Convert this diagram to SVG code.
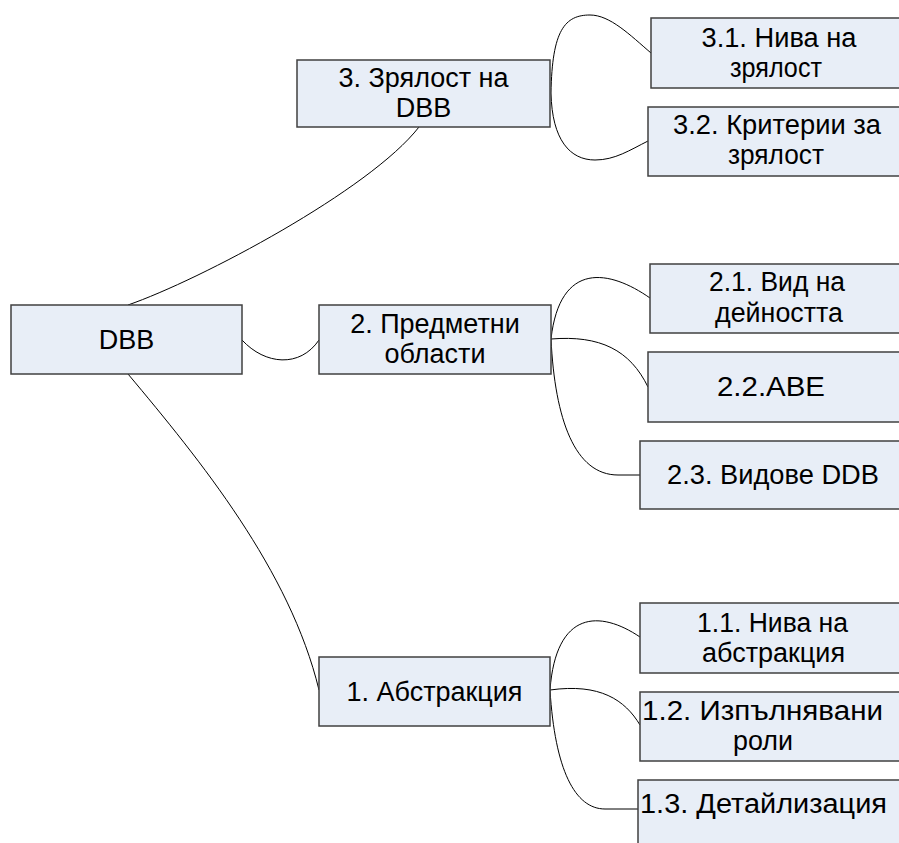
<svg xmlns="http://www.w3.org/2000/svg" width="899" height="843" viewBox="0 0 899 843">
<style>
.box{fill:#E8EEF7;stroke:#404040;stroke-width:1.5}
.t{font-family:"Liberation Sans",Arial,sans-serif;font-size:27px;fill:#000;text-anchor:middle}
.c{fill:none;stroke:#000;stroke-width:1}
</style>
<rect width="899" height="843" fill="#fff"/>
<g id="connectors">
<path class="c" d="M128,305 C200,280 370,190 419,127"/>
<path class="c" d="M242,340 C265,365 300,368 319,340"/>
<path class="c" d="M128,374 C200,460 290,570 319,690"/>
<path class="c" d="M551,93 C552,30 565,15 590,15 C610,15 630,35 651,53"/>
<path class="c" d="M551,93 C552,140 570,160 595,160 C615,160 630,150 648,141"/>
<path class="c" d="M551,339 C560,260 610,270 650,298"/>
<path class="c" d="M551,339 C600,335 630,350 648,387"/>
<path class="c" d="M551,339 C555,420 575,475 618,475 L640,475"/>
<path class="c" d="M550,690 C556,610 600,610 640,637"/>
<path class="c" d="M550,690 C600,683 625,700 640,725"/>
<path class="c" d="M550,690 C555,770 575,809 605,809 L638,809"/>
</g>
<g id="n-dbb"><rect class="box" x="11" y="305" width="231" height="69"/><text class="t" x="126.5" y="349">DBB</text></g>
<g id="n-3"><rect class="box" x="297" y="60" width="253" height="67"/><text class="t" x="423.5" y="87" textLength="170" lengthAdjust="spacingAndGlyphs">3. Зрялост на</text><text class="t" x="423.5" y="117">DBB</text></g>
<g id="n-2"><rect class="box" x="319" y="305" width="232" height="69"/><text class="t" x="435" y="333">2. Предметни</text><text class="t" x="435" y="363">области</text></g>
<g id="n-1"><rect class="box" x="319" y="657" width="231" height="69"/><text class="t" x="434.5" y="701" textLength="176" lengthAdjust="spacingAndGlyphs">1. Абстракция</text></g>
<g id="n-31"><rect class="box" x="651" y="18" width="260" height="70"/><text class="t" x="779" y="47" textLength="155" lengthAdjust="spacingAndGlyphs">3.1. Нива на</text><text class="t" x="776" y="77" textLength="92" lengthAdjust="spacingAndGlyphs">зрялост</text></g>
<g id="n-32"><rect class="box" x="648" y="107" width="263" height="69"/><text class="t" x="777" y="134" textLength="208" lengthAdjust="spacingAndGlyphs">3.2. Критерии за</text><text class="t" x="776" y="164" textLength="96" lengthAdjust="spacingAndGlyphs">зрялост</text></g>
<g id="n-21"><rect class="box" x="650" y="264" width="261" height="69"/><text class="t" x="777" y="291" textLength="136" lengthAdjust="spacingAndGlyphs">2.1. Вид на</text><text class="t" x="779" y="322" textLength="128" lengthAdjust="spacingAndGlyphs">дейността</text></g>
<g id="n-22"><rect class="box" x="648" y="352" width="263" height="70"/><text class="t" x="771" y="396" textLength="108" lengthAdjust="spacingAndGlyphs">2.2.ABE</text></g>
<g id="n-23"><rect class="box" x="640" y="441" width="271" height="68"/><text class="t" x="773" y="484" textLength="212" lengthAdjust="spacingAndGlyphs">2.3. Видове DDB</text></g>
<g id="n-11"><rect class="box" x="640" y="603" width="271" height="70"/><text class="t" x="772.5" y="632" textLength="151" lengthAdjust="spacingAndGlyphs">1.1. Нива на</text><text class="t" x="773.5" y="662" textLength="143" lengthAdjust="spacingAndGlyphs">абстракция</text></g>
<g id="n-12"><rect class="box" x="640" y="692" width="271" height="69"/><text class="t" x="762.5" y="720" textLength="241" lengthAdjust="spacingAndGlyphs">1.2. Изпълнявани</text><text class="t" x="763" y="750" textLength="60" lengthAdjust="spacingAndGlyphs">роли</text></g>
<g id="n-13"><rect class="box" x="638" y="780" width="273" height="80"/><text class="t" x="763.5" y="813" textLength="247" lengthAdjust="spacingAndGlyphs">1.3. Детайлизация</text></g>
</svg>
